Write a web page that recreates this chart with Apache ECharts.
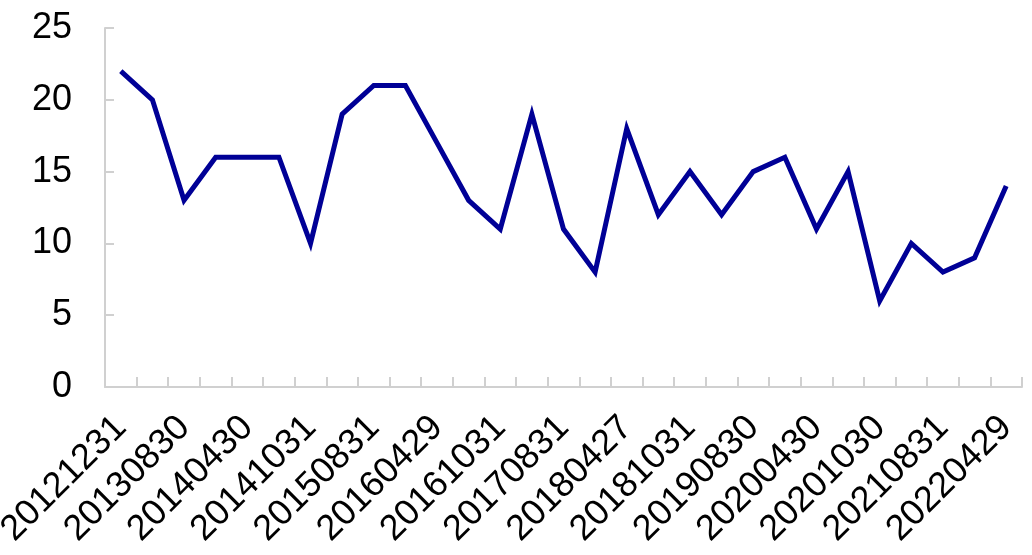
<!DOCTYPE html>
<html>
<head>
<meta charset="utf-8">
<script src="https://cdn.jsdelivr.net/npm/echarts@6/dist/echarts.min.js"></script>
<style>html,body{margin:0;padding:0;background:#fff}#c{width:1032px;height:555px}</style>
</head>
<body>
<div id="c"></div>
<script>
var categories = ["20121231","20130430","20130830","20131231","20140430","20140829","20141031","20150430","20150831","20151231","20160429","20160831","20161031","20170428","20170831","20171229","20180427","20180831","20181031","20190430","20190830","20191231","20200430","20200831","20201030","20210430","20210831","20211231","20220429"];
var values = [22,20,13,16,16,16,10,19,21,21,17,13,11,19,11,8,18,12,15,12,15,16,11,15,6,10,8,9,14];
var yTicks = {min:0, max:25, interval:5};

var chart = echarts.init(document.getElementById('c'), null, {renderer:'canvas'});
chart.setOption({
  animation:false,
  backgroundColor:'#ffffff',
  grid:{left:105, right:10, top:28, bottom:168, containLabel:false, outerBoundsMode:'none'},
  xAxis:{
    type:'category', data:categories, boundaryGap:true,
    axisLine:{show:true, lineStyle:{color:'#d0d0d0', width:2}},
    axisTick:{show:true, inside:true, length:10, interval:0, lineStyle:{color:'#d0d0d0', width:2}},
    axisLabel:{interval:1, rotate:45, margin:35, color:'#000', fontSize:36, fontFamily:'Liberation Sans, Arial, sans-serif'},
    splitLine:{show:false}
  },
  yAxis:{
    type:'value', min:yTicks.min, max:yTicks.max, interval:yTicks.interval,
    axisLine:{show:true, lineStyle:{color:'#d0d0d0', width:2}},
    axisTick:{show:true, inside:true, length:9, lineStyle:{color:'#d0d0d0', width:2}},
    axisLabel:{margin:33, color:'#000', fontSize:36, fontFamily:'Liberation Sans, Arial, sans-serif'},
    splitLine:{show:false}
  },
  series:[{
    type:'line', data:values, symbol:'none',
    lineStyle:{color:'#000096', width:5, join:'miter'},
    itemStyle:{color:'#000096'}
  }]
});
</script>
</body>
</html>
